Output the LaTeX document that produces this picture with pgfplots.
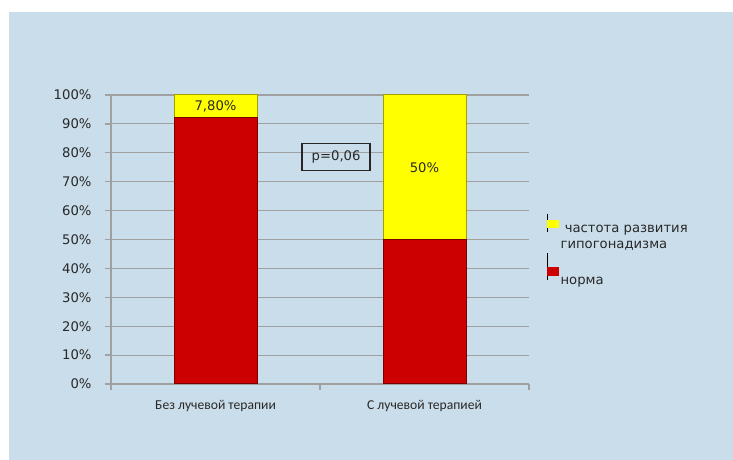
\documentclass[border=0pt]{standalone}
\usepackage{pgfplots}
\pgfplotsset{compat=1.18}
\usepackage{fontspec}
\setmainfont{DejaVu Sans}
\newfontfamily\calfont{Carlito}
\definecolor{panel}{RGB}{202,221,234}
\definecolor{gridc}{RGB}{160,160,160}
\definecolor{barred}{RGB}{204,0,0}
\definecolor{redge}{RGB}{120,0,0}
\definecolor{baryel}{RGB}{255,255,0}
\definecolor{yedge}{RGB}{160,160,0}
\definecolor{txt}{RGB}{40,40,40}
\newcommand{\fs}{\fontsize{13.2}{15}\selectfont}
\begin{document}
\begin{tikzpicture}
\useasboundingbox (0pt,0pt) rectangle (733pt,460pt);
\fill[white] (0pt,0pt) rectangle (733pt,460pt);
\fill[panel] (9pt,0pt) rectangle (733pt,448pt);
\begin{axis}[
  at={(111pt,76pt)}, anchor=south west,
  scale only axis, width=418pt, height=289pt,
  ybar stacked, bar width=83pt,
  xmin=-0.5, xmax=1.5, ymin=0, ymax=100,
  xtick={0,1}, xticklabels={Без лучевой терапии, С лучевой терапией},
  minor xtick={-0.5,0.5,1.5},
  ytick={0,10,...,100},
  yticklabel={\pgfmathprintnumber{\tick}\%},
  /pgf/number format/assume math mode=true,
  axis lines*=left,
  axis line style={gridc, line width=1.3pt},
  tick align=outside,
  major x tick style={draw=none},
  minor x tick style={gridc, line width=1.3pt},
  minor tick length=6pt,
  major tick length=6pt,
  y tick style={gridc, line width=1.3pt},
  ymajorgrids, grid style={gridc, line width=1.1pt},
  yticklabel style={font=\fs, text=txt, xshift=-10pt},
  xticklabel style={font=\calfont\fontsize{13.6}{16}\selectfont, text=txt, yshift=-7pt},
  legend style={at={(1.043,0.589)}, anchor=north west, draw=none, fill=none,
    font=\fs, text=txt, cells={anchor=west}, row sep=0pt,
    inner sep=0pt},
  clip=false,
]
\addplot[fill=barred, draw=redge, line width=1pt, forget plot] coordinates {(0,92.2) (1,50)};
\addplot[fill=baryel, draw=yedge, line width=1pt, forget plot] coordinates {(0,7.8) (1,50)};
\addlegendimage{legend image code/.code={\path (0pt,-4pt) -- (0pt,14pt); \fill[baryel] (0pt,0.5pt) rectangle (11pt,8pt);}}
\addlegendentry{\rule[-4pt]{0pt}{14pt}\ частота развития}
\addlegendimage{empty legend}
\addlegendentry{\rule[-4pt]{0pt}{15pt}гипогонадизма}
\addlegendimage{legend image code/.code={\path (0pt,-4pt) -- (0pt,23pt); \fill[barred] (0pt,0.5pt) rectangle (11pt,8pt);}}
\addlegendentry{\rule[-4pt]{0pt}{23pt}норма}
\coordinate (l1) at (axis cs:0,96.1);
\coordinate (l2) at (axis cs:1,74.8);
\coordinate (pb) at (axis cs:0.577,78.5);
\end{axis}
\node[font=\fs, text=txt] at (l1) {7,80\%};
\node[font=\fs, text=txt] at (l2) {50\%};
\node[draw=black!85, line width=1.5pt, font=\fs, text=txt,
  minimum width=68pt, minimum height=27pt, inner sep=2pt] at (pb) {p=0,06};
\end{tikzpicture}
\end{document}
